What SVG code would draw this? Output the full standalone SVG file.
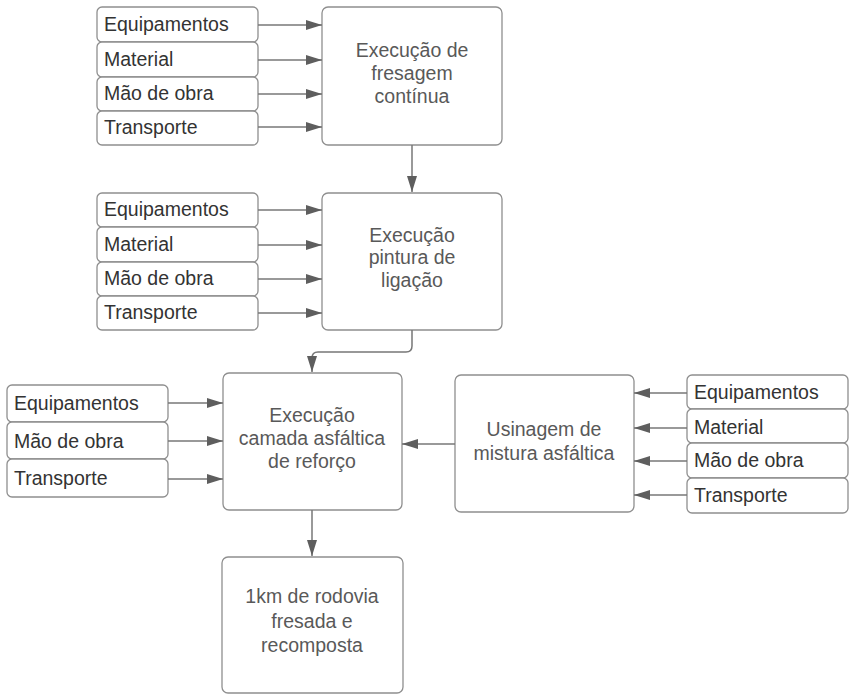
<svg xmlns="http://www.w3.org/2000/svg" width="854" height="695" viewBox="0 0 854 695">
  <defs>
    <style>
      .box { fill: #ffffff; stroke: #8f8f8f; stroke-width: 1.3; }
      .lbl { font-family: "Liberation Sans", Arial, sans-serif; font-size: 19.5px; fill: #333333; }
      .ttl { font-family: "Liberation Sans", Arial, sans-serif; font-size: 19.5px; fill: #595959; text-anchor: middle; }
      .wire { fill: none; stroke: #777777; stroke-width: 1.5; }
    </style>
    <marker id="head" viewBox="0 0 16 10" refX="16" refY="5" markerWidth="16" markerHeight="10" markerUnits="userSpaceOnUse" orient="auto">
      <path d="M0,0 L16,5 L0,10 Z" fill="#5e5e5e"/>
    </marker>
  </defs>
  <rect width="854" height="695" fill="#ffffff"/>

  <!-- Stage 1: continuous milling -->
  <g id="s1-equip"><rect class="box" x="97" y="7" width="161" height="35" rx="5"/><text class="lbl" x="104" y="31">Equipamentos</text></g>
  <g id="s1-mat"><rect class="box" x="97" y="42" width="161" height="35" rx="5"/><text class="lbl" x="104" y="66">Material</text></g>
  <g id="s1-mao"><rect class="box" x="97" y="77" width="161" height="34" rx="5"/><text class="lbl" x="104" y="100">Mão de obra</text></g>
  <g id="s1-transp"><rect class="box" x="97" y="111" width="161" height="34" rx="5"/><text class="lbl" x="104" y="134">Transporte</text></g>
  <g id="fresagem"><rect class="box" x="322" y="7" width="180" height="138" rx="6"/>
    <text class="ttl" x="412" y="57">Execução de</text>
    <text class="ttl" x="412" y="80">fresagem</text>
    <text class="ttl" x="412" y="103">contínua</text></g>

  <!-- Stage 2: tack coat -->
  <g id="s2-equip"><rect class="box" x="97" y="193" width="161" height="34" rx="5"/><text class="lbl" x="104" y="216">Equipamentos</text></g>
  <g id="s2-mat"><rect class="box" x="97" y="227" width="161" height="35" rx="5"/><text class="lbl" x="104" y="251">Material</text></g>
  <g id="s2-mao"><rect class="box" x="97" y="262" width="161" height="34" rx="5"/><text class="lbl" x="104" y="285">Mão de obra</text></g>
  <g id="s2-transp"><rect class="box" x="97" y="296" width="161" height="34" rx="5"/><text class="lbl" x="104" y="319">Transporte</text></g>
  <g id="pintura"><rect class="box" x="322" y="193" width="180" height="137" rx="6"/>
    <text class="ttl" x="412" y="242">Execução</text>
    <text class="ttl" x="412" y="264">pintura de</text>
    <text class="ttl" x="412" y="287">ligação</text></g>

  <!-- Stage 3: asphalt overlay -->
  <g id="s3-equip"><rect class="box" x="7" y="385" width="161" height="37" rx="5"/><text class="lbl" x="14" y="410">Equipamentos</text></g>
  <g id="s3-mao"><rect class="box" x="7" y="422" width="161" height="37" rx="5"/><text class="lbl" x="14" y="448">Mão de obra</text></g>
  <g id="s3-transp"><rect class="box" x="7" y="459" width="161" height="38" rx="5"/><text class="lbl" x="14" y="485">Transporte</text></g>
  <g id="camada"><rect class="box" x="223" y="373" width="179" height="137" rx="6"/>
    <text class="ttl" x="312" y="422">Execução</text>
    <text class="ttl" x="312" y="445">camada asfáltica</text>
    <text class="ttl" x="312" y="468">de reforço</text></g>

  <!-- Asphalt plant -->
  <g id="usinagem"><rect class="box" x="455" y="375" width="179" height="137" rx="6"/>
    <text class="ttl" x="544" y="436">Usinagem de</text>
    <text class="ttl" x="544" y="460">mistura asfáltica</text></g>
  <g id="u-equip"><rect class="box" x="687" y="375" width="161" height="34" rx="5"/><text class="lbl" x="694" y="399">Equipamentos</text></g>
  <g id="u-mat"><rect class="box" x="687" y="409" width="161" height="34" rx="5"/><text class="lbl" x="694" y="434">Material</text></g>
  <g id="u-mao"><rect class="box" x="687" y="443" width="161" height="35" rx="5"/><text class="lbl" x="694" y="467">Mão de obra</text></g>
  <g id="u-transp"><rect class="box" x="687" y="478" width="161" height="35" rx="5"/><text class="lbl" x="694" y="502">Transporte</text></g>

  <!-- Result -->
  <g id="resultado"><rect class="box" x="222" y="557" width="181" height="136" rx="6"/>
    <text class="ttl" x="312" y="603">1km de rodovia</text>
    <text class="ttl" x="312" y="628">fresada e</text>
    <text class="ttl" x="312" y="652">recomposta</text></g>

  <g id="connectors">
    <path class="wire" marker-end="url(#head)" d="M258,25 H322"/>
    <path class="wire" marker-end="url(#head)" d="M258,60 H322"/>
    <path class="wire" marker-end="url(#head)" d="M258,94 H322"/>
    <path class="wire" marker-end="url(#head)" d="M258,127 H322"/>
    <path class="wire" marker-end="url(#head)" d="M412,145 V192"/>

    <path class="wire" marker-end="url(#head)" d="M258,210 H322"/>
    <path class="wire" marker-end="url(#head)" d="M258,245 H322"/>
    <path class="wire" marker-end="url(#head)" d="M258,279 H322"/>
    <path class="wire" marker-end="url(#head)" d="M258,313 H322"/>
    <path class="wire" marker-end="url(#head)" d="M412,330 V346 Q412,352 406,352 H318 Q312,352 312,358 V372"/>

    <path class="wire" marker-end="url(#head)" d="M168,403 H223"/>
    <path class="wire" marker-end="url(#head)" d="M168,441 H223"/>
    <path class="wire" marker-end="url(#head)" d="M168,479 H223"/>
    <path class="wire" marker-end="url(#head)" d="M455,444 H402"/>
    <path class="wire" marker-end="url(#head)" d="M312,510 V556"/>

    <path class="wire" marker-end="url(#head)" d="M687,393 H634"/>
    <path class="wire" marker-end="url(#head)" d="M687,428 H634"/>
    <path class="wire" marker-end="url(#head)" d="M687,461 H634"/>
    <path class="wire" marker-end="url(#head)" d="M687,495 H634"/>
  </g>
</svg>
